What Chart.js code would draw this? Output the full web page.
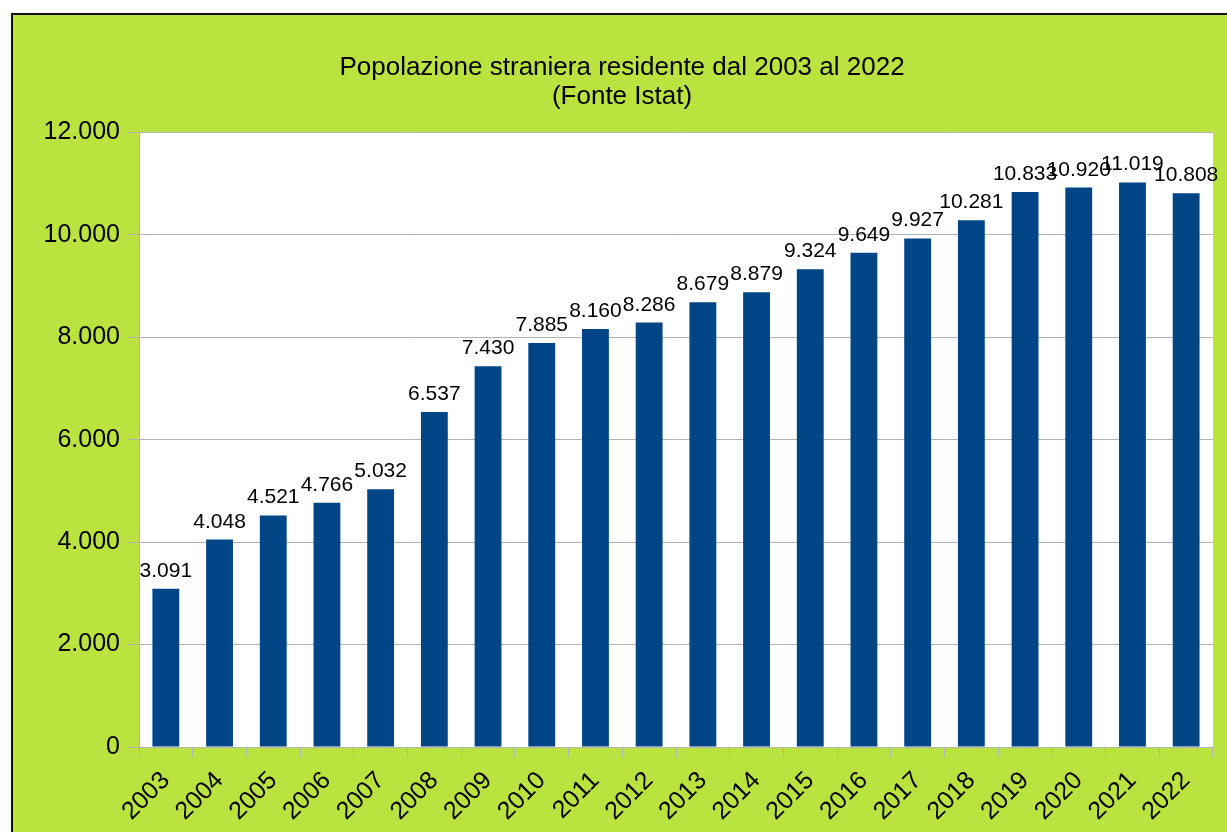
<!DOCTYPE html>
<html>
<head>
<meta charset="utf-8">
<script src="https://cdn.jsdelivr.net/npm/chart.js@4/dist/chart.umd.min.js"></script>
<style>
  html, body { margin: 0; padding: 0; background: #fff; overflow: hidden; }
  canvas { display: block; }
</style>
</head>
<body>
<canvas id="popChart" width="1227" height="832" style="width:1227px;height:832px"></canvas>
<script>
const years = ['2003', '2004', '2005', '2006', '2007', '2008', '2009', '2010', '2011', '2012',
    '2013', '2014', '2015', '2016', '2017', '2018', '2019', '2020', '2021', '2022'];
const residents = [3091, 4048, 4521, 4766, 5032, 6537, 7430, 7885, 8160, 8286,
    8679, 8879, 9324, 9649, 9927, 10281, 10833, 10920, 11019, 10808];
const titleLines = ['Popolazione straniera residente dal 2003 al 2022', '(Fonte Istat)'];

// 12000 -> "12.000"
function fmt(v) {
    return String(v).replace(/\B(?=(\d{3})+(?!\d))/g, '.');
}

Chart.defaults.font.family = "'Liberation Sans', Arial, sans-serif";
Chart.defaults.color = '#000';

// green frame + white plot area
const frame = {
    id: 'frame',
    beforeDraw(chart) {
        const c = chart.ctx;
        const a = chart.chartArea;
        c.save();
        c.fillStyle = '#fff';
        c.fillRect(0, 0, chart.width, chart.height);
        c.fillStyle = '#bbe33f';
        c.fillRect(11, 13, chart.width, chart.height);
        c.strokeStyle = '#111';
        c.lineWidth = 2;
        c.beginPath();
        c.moveTo(12, chart.height);
        c.lineTo(12, 14);
        c.lineTo(chart.width, 14);
        c.stroke();
        c.fillStyle = '#fff';
        c.fillRect(a.left, a.top, a.right - a.left, a.bottom - a.top);
        c.restore();
    }
};

// value labels above bars
const valueLabels = {
    id: 'valueLabels',
    afterDatasetsDraw(chart) {
        const c = chart.ctx;
        const meta = chart.getDatasetMeta(0);
        c.save();
        c.font = "21px 'Liberation Sans', Arial, sans-serif";
        c.fillStyle = '#000';
        c.textAlign = 'center';
        c.textBaseline = 'alphabetic';
        meta.data.forEach((bar, i) => {
            c.fillText(fmt(residents[i]), bar.x, bar.y - 12);
        });
        c.restore();
    }
};

const ctx = document.getElementById('popChart').getContext('2d');
const popChart = new Chart(ctx, {
    type: 'bar',
    data: {
        labels: years,
        datasets: [{
            label: 'Popolazione straniera',
            data: residents,
            backgroundColor: '#004586',
            borderWidth: 0,
            barPercentage: 1,
            categoryPercentage: 0.5
        }]
    },
    options: {
        responsive: false,
        animation: false,
        devicePixelRatio: 1,
        layout: {
            padding: { left: 31, right: 14, top: 0, bottom: 0 }
        },
        plugins: {
            legend: { display: false },
            tooltip: { enabled: false },
            title: {
                display: true,
                text: titleLines,
                color: '#000',
                font: { size: 26, weight: 'normal', lineHeight: 1.12 },
                padding: { top: 53, bottom: 21 }
            }
        },
        scales: {
            x: {
                grid: {
                    drawOnChartArea: false,
                    color: '#b3b3b3',
                    tickLength: 10
                },
                border: { color: '#b3b3b3' },
                ticks: {
                    font: { size: 25 },
                    maxRotation: 45,
                    minRotation: 45,
                    autoSkip: false,
                    padding: 9
                },
                afterFit(scale) { scale.height = 85; }
            },
            y: {
                min: 0,
                max: 12000,
                grid: {
                    color: '#b3b3b3',
                    tickLength: 11
                },
                border: { color: '#b3b3b3' },
                ticks: {
                    stepSize: 2000,
                    font: { size: 25 },
                    padding: 8,
                    callback: (v) => fmt(v)
                },
                afterFit(scale) { scale.width = 108; }
            }
        }
    },
    plugins: [frame, valueLabels]
});
</script>
</body>
</html>
